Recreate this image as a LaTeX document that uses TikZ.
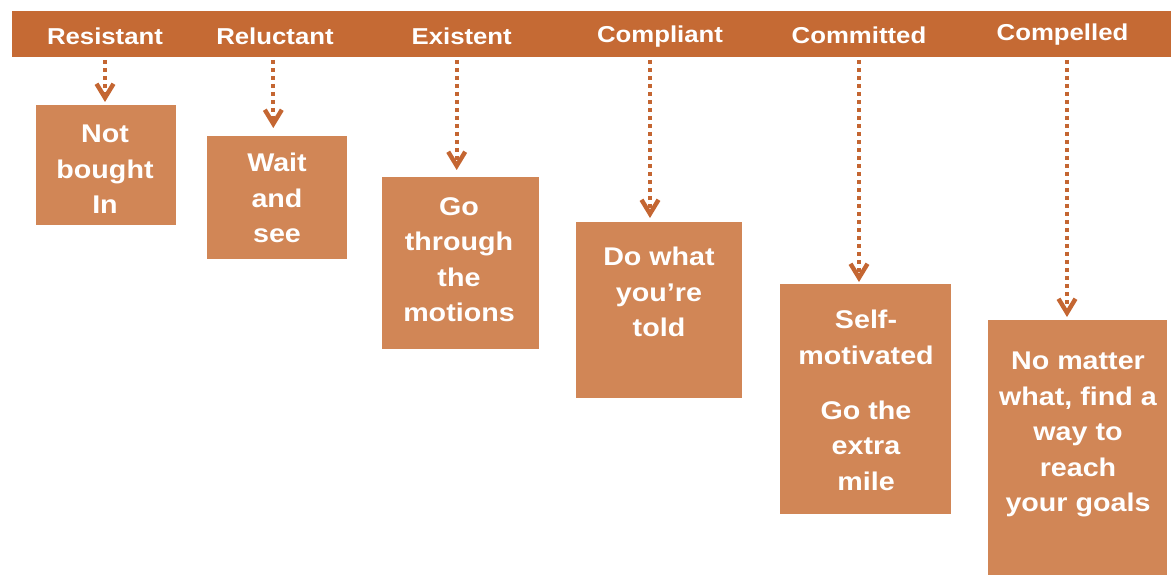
\documentclass[tikz,border=0pt]{standalone}
\usepackage{fontspec}
\setmainfont{Liberation Sans}[FakeStretch=1.12]
\usetikzlibrary{arrows.meta}
\definecolor{bandfill}{RGB}{197,106,52}
\definecolor{stagefill}{RGB}{209,134,86}
\definecolor{flowcol}{RGB}{196,102,50}
\begin{document}
\begin{tikzpicture}[x=1pt,y=-1pt,
  band/.style={fill=bandfill,inner sep=0pt,anchor=north west},
  header/.style={text=white,inner sep=0pt,anchor=base,font=\fontsize{23}{28}\selectfont\bfseries},
  stage/.style={fill=stagefill,inner sep=0pt,anchor=north west},
  stagetext/.style={text=white,inner sep=0pt,anchor=north,align=center,
    font=\fontsize{25.6}{35.5}\selectfont\bfseries},
  flow/.style={draw=flowcol,line width=4.2pt,dash pattern=on 4pt off 4pt,
    -{Straight Barb[length=14pt,width=17pt,line width=4.4pt]}}
]
\useasboundingbox (0,0) rectangle (1171,575);

% heading band with the six stage names
\node[band,minimum width=1159pt,minimum height=46pt] (band) at (12,11) {};
\node[header] (h1) at (105,44.3)  {Resistant};
\node[header] (h2) at (275,44.3)  {Reluctant};
\node[header] (h3) at (461.7,44.3){Existent};
\node[header] (h4) at (660,42.7)  {Compliant};
\node[header] (h5) at (859,43.2)  {Committed};
\node[header] (h6) at (1062.5,40.3){Compelled};

% descending staircase of boxes
\node[stage,minimum width=140pt,minimum height=120pt] (b1) at (36,105)  {};
\node[stage,minimum width=140pt,minimum height=123pt] (b2) at (207,136) {};
\node[stage,minimum width=157pt,minimum height=172pt] (b3) at (382,177) {};
\node[stage,minimum width=166pt,minimum height=176pt] (b4) at (576,222) {};
\node[stage,minimum width=171pt,minimum height=230pt] (b5) at (780,284) {};
\node[stage,minimum width=179pt,minimum height=255pt] (b6) at (988,320) {};

% box texts
\node[stagetext] (t1) at (105,125)  {Not\\bought\\In};
\node[stagetext] (t2) at (277,153)  {Wait\\and\\see};
\node[stagetext] (t3) at (459,197)  {Go\\through\\the\\motions};
\node[stagetext] (t4) at (659,247)  {Do what\\you’re\\told};
\node[stagetext] (t5) at (866,310)  {Self-\\motivated\\[19.5pt]Go the\\extra\\mile};
\node[stagetext] (t6) at (1078,352) {No matter\\what, find a\\way to\\reach\\your goals};

% dotted connectors from the band down to each box
\coordinate (s1) at (105,60);
\coordinate (s2) at (273.3,60);
\coordinate (s3) at (456.7,60);
\coordinate (s4) at (650,60);
\coordinate (s5) at (859,60);
\coordinate (s6) at (1067,60);
\draw[flow,shorten >=3pt] (s1) -- (s1 |- b1.north);
\draw[flow,shorten >=8pt] (s2) -- (s2 |- b2.north);
\draw[flow,shorten >=7pt] (s3) -- (s3 |- b3.north);
\draw[flow,shorten >=4pt] (s4) -- (s4 |- b4.north);
\draw[flow,shorten >=2pt] (s5) -- (s5 |- b5.north);
\draw[flow,shorten >=3pt] (s6) -- (s6 |- b6.north);
\end{tikzpicture}
\end{document}
